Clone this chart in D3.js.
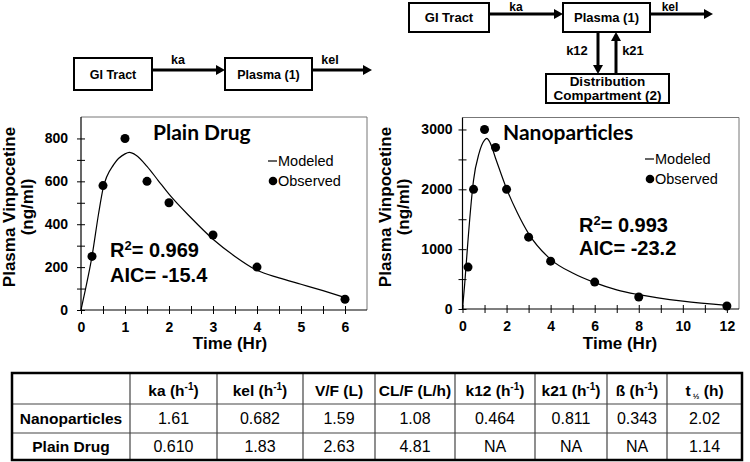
<!DOCTYPE html>
<html><head><meta charset="utf-8">
<script src="https://cdn.jsdelivr.net/npm/d3@7"></script>
<style>
html,body{margin:0;padding:0;background:#fff;}
svg{display:block;font-family:"Liberation Sans",Arial,sans-serif;}
</style></head>
<body>
<svg id="chart" width="750" height="462"></svg>
<script>
// ---------------- DATA ----------------
const plainObsTimes = [0.25, 0.5, 1, 1.5, 2, 3, 4, 6];
const plainObserved = [250, 580, 800, 600, 500, 350, 200, 50];
const plainModelTimes = [0, 0.1, 0.25, 0.4, 0.5, 0.75, 1.0, 1.1, 1.25, 1.5, 1.75, 2.0, 2.5, 3.0, 3.5, 4.0, 4.5, 5.0, 5.5, 6.0];
const plainModeled   = [0, 95, 250, 450, 565, 680, 728, 735, 722, 670, 605, 540, 430, 330, 250, 185, 150, 120, 90, 58];

const nanoObsTimes = [0.25, 0.5, 1, 1.5, 2, 3, 4, 6, 8, 12];
const nanoObserved = [700, 2000, 3000, 2700, 2000, 1200, 800, 450, 200, 50];
const nanoModelTimes = [0, 0.1, 0.25, 0.4, 0.5, 0.75, 1.0, 1.1, 1.25, 1.5, 2.0, 2.5, 3.0, 4.0, 5.0, 6.0, 7.0, 8.0, 10.0, 12.0];
const nanoModeled    = [0, 420, 1150, 1800, 2150, 2600, 2820, 2850, 2780, 2520, 2010, 1600, 1260, 830, 600, 440, 320, 240, 130, 60];

const plainXTicks = [0, 0.5, 1, 1.5, 2, 2.5, 3, 3.5, 4, 4.5, 5, 5.5, 6];
const plainXLabels = [0, 1, 2, 3, 4, 5, 6];
const plainYTicks = [0, 100, 200, 300, 400, 500, 600, 700, 800];
const plainYLabels = [0, 200, 400, 600, 800];

const nanoXTicks = [0, 1, 2, 3, 4, 5, 6, 7, 8, 9, 10, 11, 12];
const nanoXLabels = [0, 2, 4, 6, 8, 10, 12];
const nanoYTicks = [0, 500, 1000, 1500, 2000, 2500, 3000];
const nanoYLabels = [0, 1000, 2000, 3000];

const tableHeaders = ["", "ka|-1", "kel|-1", "V/F (L)", "CL/F (L/h)", "k12|-1", "k21|-1", "ß|-1", "t½"];
const tableRowNames = ["Nanoparticles", "Plain Drug"];
const nanoParams  = ["1.61", "0.682", "1.59", "1.08", "0.464", "0.811", "0.343", "2.02"];
const plainParams = ["0.610", "1.83", "2.63", "4.81", "NA", "NA", "NA", "1.14"];

// ---------------- DRAW ----------------
const svg = d3.select("#chart");

function drawChart(cfg) {
  const x = d3.scaleLinear().domain(cfg.xDomain).range([cfg.left, cfg.right]);
  const y = d3.scaleLinear().domain(cfg.yDomain).range([cfg.bottom, cfg.top]);
  const g = svg.append("g");

  // frame (top & right)
  g.append("path")
    .attr("d", `M${cfg.left},${cfg.top}H${cfg.right}V${cfg.bottom}`)
    .attr("fill", "none").attr("stroke", "#777").attr("stroke-width", 1);

  const xAxis = d3.axisBottom(x).tickValues(cfg.xTicks).tickSize(4).tickPadding(8)
    .tickFormat(d => cfg.xLabels.includes(d) ? d : "");
  const gx = g.append("g").attr("transform", `translate(0,${cfg.bottom})`).call(xAxis);
  gx.select(".domain").attr("d", `M${cfg.left},0H${cfg.right}`).attr("stroke", "#000").attr("stroke-width", 1.2);
  gx.selectAll(".tick line").attr("y1", -4).attr("y2", 4).attr("stroke", "#000");
  gx.selectAll(".tick text").attr("font-size", 14).attr("font-weight", "bold")
    .attr("font-family", "Liberation Sans, Arial, sans-serif").attr("fill", "#000");

  const yAxis = d3.axisLeft(y).tickValues(cfg.yTicks).tickSize(4).tickPadding(cfg.yPad)
    .tickFormat(d => cfg.yLabels.includes(d) ? d : "");
  const gy = g.append("g").attr("transform", `translate(${cfg.left},0)`).call(yAxis);
  gy.select(".domain").attr("d", `M0,${cfg.bottom}V${cfg.top}`).attr("stroke", "#000").attr("stroke-width", 1.2);
  gy.selectAll(".tick line").attr("x1", 4).attr("x2", -4).attr("stroke", "#000");
  gy.selectAll(".tick text").attr("font-size", 14).attr("font-weight", "bold")
    .attr("font-family", "Liberation Sans, Arial, sans-serif").attr("fill", "#000");

  // modeled line
  const line = d3.line().x((d, i) => x(cfg.modelT[i])).y(d => y(d)).curve(d3.curveMonotoneX);
  g.append("path").datum(cfg.modeled).attr("d", line)
    .attr("fill", "none").attr("stroke", "#000").attr("stroke-width", 1.2);

  // observed points
  g.selectAll("circle.obs").data(cfg.observed).join("circle")
    .attr("cx", (d, i) => x(cfg.obsT[i])).attr("cy", d => y(d)).attr("r", 4.5).attr("fill", "#000");

  // axis titles
  g.append("text").attr("x", cfg.xTitleX).attr("y", 349).attr("text-anchor", "middle")
    .attr("font-size", 17).attr("font-weight", "bold").text("Time (Hr)");
  const yt = g.append("text").attr("transform", `translate(${cfg.yTitleX},207) rotate(-90)`)
    .attr("text-anchor", "middle").attr("font-size", 17).attr("font-weight", "bold");
  yt.append("tspan").attr("x", 0).attr("y", 0).text("Plasma Vinpocetine");
  yt.append("tspan").attr("x", 0).attr("y", 18).text("(ng/ml)");

  // title
  g.append("text").attr("x", cfg.titleX).attr("y", 140).attr("font-family", "Lato, sans-serif")
    .attr("font-weight", "bold").attr("font-size", 21).text(cfg.title);

  // legend
  g.append("line").attr("x1", cfg.legX - 10).attr("x2", cfg.legX - 1).attr("y1", cfg.legY - 5).attr("y2", cfg.legY - 5)
    .attr("stroke", "#000").attr("stroke-width", 1.2);
  g.append("text").attr("x", cfg.legX).attr("y", cfg.legY).attr("font-size", 14.5).text("Modeled");
  g.append("circle").attr("cx", cfg.legX - 5).attr("cy", cfg.legY + 15).attr("r", 4.3).attr("fill", "#000");
  g.append("text").attr("x", cfg.legX).attr("y", cfg.legY + 20).attr("font-size", 14.5).text("Observed");

  // stats
  const s1 = g.append("text").attr("x", cfg.statX).attr("y", cfg.statY).attr("font-size", 20).attr("font-weight", "bold");
  s1.append("tspan").text("R");
  s1.append("tspan").attr("font-size", 13).attr("dy", -7).text("2");
  s1.append("tspan").attr("dy", 7).text("= " + cfg.r2);
  g.append("text").attr("x", cfg.statX).attr("y", cfg.statY + cfg.statGap).attr("font-size", 20)
    .attr("font-weight", "bold").text("AIC= " + cfg.aic);
}

drawChart({
  xDomain: [0, 6.5], yDomain: [0, 900], left: 81, right: 367, top: 117, bottom: 310,
  xTicks: plainXTicks, xLabels: plainXLabels, yTicks: plainYTicks, yLabels: plainYLabels, yPad: 9,
  modelT: plainModelTimes, modeled: plainModeled, obsT: plainObsTimes, observed: plainObserved,
  xTitleX: 230, yTitleX: 15, title: "Plain Drug", titleX: 153, legX: 278, legY: 166,
  statX: 110, statY: 257, statGap: 25, r2: "0.969", aic: "-15.4"
});
drawChart({
  xDomain: [0, 12.55], yDomain: [0, 3200], left: 462.5, right: 739, top: 117.5, bottom: 309,
  xTicks: nanoXTicks, xLabels: nanoXLabels, yTicks: nanoYTicks, yLabels: nanoYLabels, yPad: 6,
  modelT: nanoModelTimes, modeled: nanoModeled, obsT: nanoObsTimes, observed: nanoObserved,
  xTitleX: 620, yTitleX: 391, title: "Nanoparticles", titleX: 503, legX: 655, legY: 164,
  statX: 579, statY: 232, statGap: 23, r2: "0.993", aic: "-23.2"
});

// ---------------- COMPARTMENT DIAGRAMS ----------------
const dg = svg.append("g").attr("font-size", 12.5).attr("font-weight", "bold");
function box(x, y, w, h, lines, lineGap, fs) {
  dg.append("rect").attr("x", x).attr("y", y).attr("width", w).attr("height", h)
    .attr("fill", "#fff").attr("stroke", "#000").attr("stroke-width", 2);
  const n = lines.length;
  lines.forEach((t, i) => {
    dg.append("text").attr("x", x + w / 2).attr("y", y + h / 2 + 4.5 + (i - (n - 1) / 2) * lineGap)
      .attr("text-anchor", "middle").attr("font-size", fs || 12.5).text(t);
  });
}
function arrow(x1, y1, x2, y2) {
  const ang = Math.atan2(y2 - y1, x2 - x1), L = 9, W = 5;
  const bx = x2 - L * Math.cos(ang), by = y2 - L * Math.sin(ang);
  dg.append("line").attr("x1", x1).attr("y1", y1).attr("x2", bx).attr("y2", by)
    .attr("stroke", "#000").attr("stroke-width", 3);
  const px = -Math.sin(ang) * W, py = Math.cos(ang) * W;
  dg.append("path").attr("d", `M${x2},${y2}L${bx + px},${by + py}L${bx - px},${by - py}Z`).attr("fill", "#000");
}
function label(x, y, t, fs) {
  dg.append("text").attr("x", x).attr("y", y).attr("text-anchor", "middle").attr("font-size", fs || 12.5).text(t);
}

// one-compartment (left)
box(74, 58, 78, 32, ["GI Tract"], 0);
box(225, 58, 87, 32, ["Plasma (1)"], 0);
arrow(152, 70, 225, 70); label(178, 64, "ka");
arrow(312, 70, 372, 70); label(330, 64, "kel");

// two-compartment (right)
box(409, 3, 80, 29, ["GI Tract"], 0, 13);
box(563, 3, 87, 29, ["Plasma (1)"], 0, 13);
box(546, 74, 123, 29, ["Distribution", "Compartment (2)"], 14, 13.5);
arrow(489, 14, 563, 14); label(516, 10.5, "ka", 12);
arrow(650, 14, 713, 14); label(670, 10.5, "kel", 12);
arrow(598, 32, 598, 74); label(577, 55, "k12", 13);
arrow(616, 74, 616, 32); label(633, 55, "k21", 13);

// ---------------- TABLE ----------------
const colX = [12, 130, 217, 303, 375, 455, 535, 607, 667, 742];
const rowY = [373, 404, 433, 460];
const tg = svg.append("g");
colX.slice(1, -1).forEach(cx => tg.append("line").attr("x1", cx).attr("x2", cx).attr("y1", rowY[0]).attr("y2", rowY[3])
  .attr("stroke", "#444").attr("stroke-width", 1.2));
rowY.slice(1, -1).forEach(ry => tg.append("line").attr("x1", colX[0]).attr("x2", colX[9]).attr("y1", ry).attr("y2", ry)
  .attr("stroke", "#444").attr("stroke-width", 1.2));
tg.append("rect").attr("x", colX[0]).attr("y", rowY[0]).attr("width", colX[9] - colX[0]).attr("height", rowY[3] - rowY[0])
  .attr("fill", "none").attr("stroke", "#000").attr("stroke-width", 2.5);

tableHeaders.forEach((h, i) => {
  if (!h) return;
  const cx = (colX[i] + colX[i + 1]) / 2;
  const t = tg.append("text").attr("x", cx).attr("y", 396).attr("text-anchor", "middle")
    .attr("font-size", 15.5).attr("font-weight", "bold");
  if (h.includes("|")) {
    const [base, sup] = h.split("|");
    t.append("tspan").text(base + " (h");
    t.append("tspan").attr("font-size", 10).attr("dy", -6).text(sup);
    t.append("tspan").attr("dy", 6).text(")");
  } else if (h === "t½") {
    t.append("tspan").text("t");
    t.append("tspan").attr("font-size", 8).attr("dy", 3).text(" ½");
    t.append("tspan").attr("dy", -3).text(" (h)");
  } else {
    t.text(h);
  }
});
[nanoParams, plainParams].forEach((vals, r) => {
  const by = r === 0 ? 424 : 452;
  tg.append("text").attr("x", (colX[0] + colX[1]) / 2).attr("y", by).attr("text-anchor", "middle")
    .attr("font-size", 15.5).attr("font-weight", "bold").text(tableRowNames[r]);
  vals.forEach((v, i) => {
    tg.append("text").attr("x", (colX[i + 1] + colX[i + 2]) / 2).attr("y", by).attr("text-anchor", "middle")
      .attr("font-size", 16).text(v);
  });
});
</script>
</body></html>
